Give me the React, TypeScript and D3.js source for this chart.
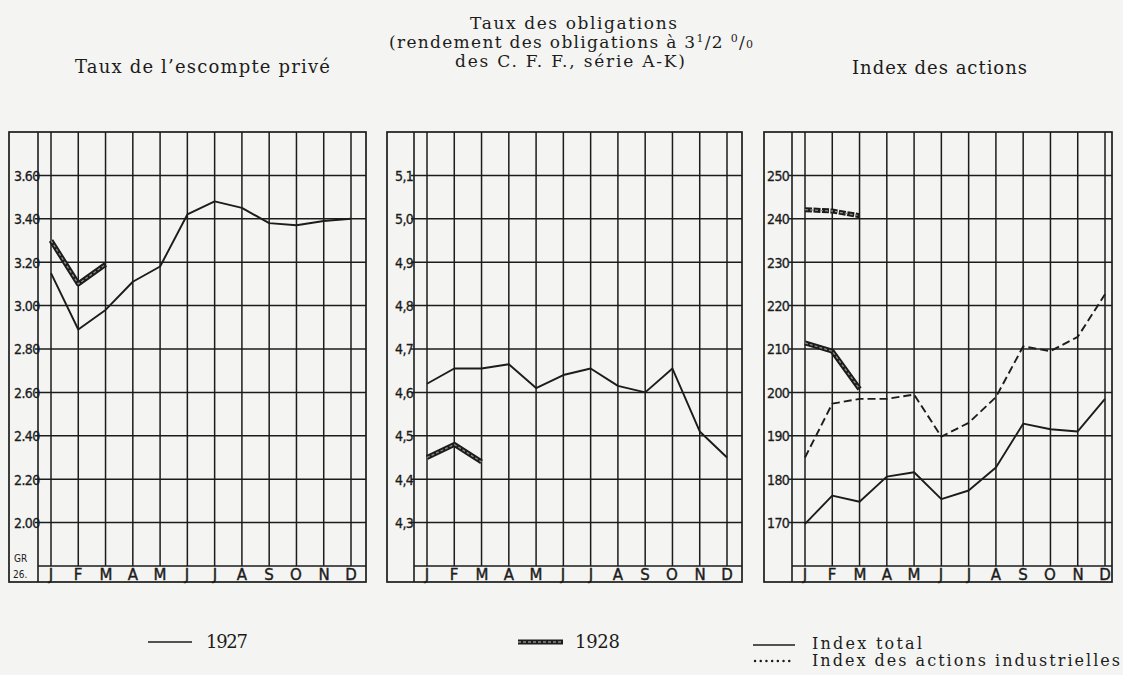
import React from 'react';
import * as d3 from 'd3';

// month initials on the bottom strip
const months = ['J', 'F', 'M', 'A', 'M', 'J', 'J', 'A', 'S', 'O', 'N', 'D'];

// Taux de l'escompte privé
const escompteTicks = [3.6, 3.4, 3.2, 3.0, 2.8, 2.6, 2.4, 2.2, 2.0];
const escompte1927 = [3.15, 2.89, 2.98, 3.11, 3.18, 3.42, 3.48, 3.45, 3.38, 3.37, 3.39, 3.40];
const escompte1928 = [3.30, 3.10, 3.19];

// Taux des obligations
const obligTicks = [5.1, 5.0, 4.9, 4.8, 4.7, 4.6, 4.5, 4.4, 4.3];
const oblig1927 = [4.62, 4.655, 4.655, 4.665, 4.61, 4.64, 4.655, 4.615, 4.60, 4.655, 4.51, 4.45];
const oblig1928 = [4.45, 4.48, 4.44];

// Index des actions
const actionsTicks = [250, 240, 230, 220, 210, 200, 190, 180, 170];
const indexTotal1927 = [169.7, 176.2, 174.8, 180.6, 181.6, 175.4, 177.4, 182.7, 192.8, 191.5, 191, 198.5];
const indexIndus1927 = [185, 197.4, 198.5, 198.5, 199.5, 189.8, 193, 198.9, 210.6, 209.5, 212.8, 222.6];
const indexTotal1928 = [211.4, 209.5, 200.8];
const indexIndus1928 = [242.1, 241.8, 240.7];

const W = 1123;
const H = 675;
const top = 132;
const strip = 566;
const bottom = 582;
const ink = '#1c1c1c';
const serif = '"DejaVu Serif", "Liberation Serif", serif';
const hand = '"DejaVu Sans Condensed", "DejaVu Sans", sans-serif';

type Series = { values: number[]; kind: 'solid' | 'dashed' | 'thick' | 'thickDashed' };

type PanelProps = {
  boxLeft: number;
  boxRight: number;
  axisX: number;
  firstX: number;
  lastX: number;
  labelX: number;
  domain: [number, number];
  ticks: number[];
  fmt: (v: number) => string;
  series: Series[];
  extra?: React.ReactNode;
};

const Thick = ({ d, dashed }: { d: string; dashed?: boolean }) => (
  <g fill="none" strokeLinejoin="round">
    <path d={d} stroke={ink} strokeWidth={5} strokeDasharray={dashed ? '7,1.5' : undefined} />
    <path d={d} stroke="#8a8a8a" strokeWidth={1.3} strokeDasharray="3,2" />
  </g>
);

const Panel = (p: PanelProps) => {
  const x = d3.scaleLinear().domain([0, 11]).range([p.firstX, p.lastX]);
  const y = d3.scaleLinear().domain(p.domain).range([strip, top]);
  const line = d3.line<number>().x((_, i) => x(i)).y((d) => y(d));

  return (
    <g>
      <rect x={p.boxLeft} y={top} width={p.boxRight - p.boxLeft} height={bottom - top}
        fill="none" stroke={ink} strokeWidth={1.7} />
      <line x1={p.axisX} x2={p.axisX} y1={top} y2={bottom} stroke={ink} strokeWidth={1.6} />
      <line x1={p.axisX} x2={p.boxRight} y1={strip} y2={strip} stroke={ink} strokeWidth={1.6} />
      {months.map((m, i) => (
        <line key={'v' + i} x1={x(i)} x2={x(i)} y1={top} y2={strip} stroke={ink} strokeWidth={1.5} />
      ))}
      {p.ticks.map((t) => (
        <g key={'t' + t}>
          <line x1={p.axisX - 3} x2={p.boxRight} y1={y(t)} y2={y(t)} stroke={ink} strokeWidth={1.5} />
          <text x={p.labelX} y={y(t)} dy="0.38em" fontFamily={hand} fontSize={14}
            fill={ink} stroke={ink} strokeWidth={0.3} letterSpacing={-0.6}>{p.fmt(t)}</text>
        </g>
      ))}
      {months.map((m, i) => (
        <text key={'m' + i} x={Math.round(x(i))} y={574} dy="0.37em" textAnchor="middle"
          fontFamily='"DejaVu Sans", sans-serif' fontSize={15} fill={ink}
          stroke={ink} strokeWidth={0.4}>{m}</text>
      ))}
      {p.series.map((s, k) => {
        const d = line(s.values) || '';
        if (s.kind === 'thick') return <Thick key={k} d={d} />;
        if (s.kind === 'thickDashed') return <Thick key={k} d={d} dashed />;
        return (
          <path key={k} d={d} fill="none" stroke={ink} strokeWidth={1.9}
            strokeLinejoin="round" strokeDasharray={s.kind === 'dashed' ? '8,4' : undefined} />
        );
      })}
      {p.extra}
    </g>
  );
};

const fmt2 = d3.format('.2f');
const fmtComma = (v: number) => d3.format('.1f')(v).replace('.', ',');
const fmtInt = d3.format('d');

export default function App() {
  return (
    <svg width={W} height={H} style={{ position: 'absolute', left: 0, top: 0, background: '#f4f4f2' }}>
      {/* titles */}
      <g fontFamily={serif} fontSize={17} fill={ink}>
        <text x={470} y={29} textLength={207} lengthAdjust="spacing">Taux des obligations</text>
        <text x={389} y={48} textLength={364} lengthAdjust="spacing">
          (rendement des obligations à 3<tspan fontSize={11} dy={-6}>1</tspan>
          <tspan dy={6}>/2 </tspan><tspan fontSize={11} dy={-6}>0</tspan><tspan dy={6}>/</tspan>
          <tspan fontSize={11}>0</tspan>
        </text>
        <text x={455} y={67} textLength={230} lengthAdjust="spacing">des C. F. F., série A-K)</text>
        <text x={75} y={73} textLength={255} lengthAdjust="spacing" fontSize={18}>Taux de l’escompte privé</text>
        <text x={852} y={74} textLength={175} lengthAdjust="spacing" fontSize={18}>Index des actions</text>
      </g>

      <Panel boxLeft={9} boxRight={366} axisX={38} firstX={51} lastX={351} labelX={14}
        domain={[1.8, 3.8]} ticks={escompteTicks} fmt={fmt2}
        series={[{ values: escompte1927, kind: 'solid' }, { values: escompte1928, kind: 'thick' }]}
        extra={
          <g fontFamily={hand} fontSize={10} fill={ink}>
            <text x={14} y={562}>GR</text>
            <text x={13} y={578}>26.</text>
          </g>
        } />

      <Panel boxLeft={387} boxRight={742} axisX={414} firstX={427} lastX={727} labelX={395}
        domain={[4.2, 5.2]} ticks={obligTicks} fmt={fmtComma}
        series={[{ values: oblig1927, kind: 'solid' }, { values: oblig1928, kind: 'thick' }]} />

      <Panel boxLeft={764} boxRight={1112} axisX={792} firstX={805} lastX={1105} labelX={767}
        domain={[160, 260]} ticks={actionsTicks} fmt={fmtInt}
        series={[
          { values: indexTotal1927, kind: 'solid' },
          { values: indexIndus1927, kind: 'dashed' },
          { values: indexTotal1928, kind: 'thick' },
          { values: indexIndus1928, kind: 'thickDashed' },
        ]} />

      {/* legend */}
      <g fontFamily={serif} fontSize={18} fill={ink}>
        <line x1={148} x2={192} y1={642} y2={642} stroke={ink} strokeWidth={1.6} />
        <text x={206} y={648} textLength={42} lengthAdjust="spacing">1927</text>
        <Thick d="M518,642L563,642" />
        <text x={575} y={648} textLength={45} lengthAdjust="spacing">1928</text>
      </g>
      <g fontFamily={serif} fontSize={16} fill={ink}>
        <line x1={753} x2={795} y1={645} y2={645} stroke={ink} strokeWidth={1.6} />
        <text x={812} y={649} textLength={110} lengthAdjust="spacing">Index total</text>
        <line x1={755} x2={790} y1={661} y2={661} stroke={ink} strokeWidth={2.4}
          strokeDasharray="0.1,5.6" strokeLinecap="round" />
        <text x={812} y={666} textLength={308} lengthAdjust="spacing">Index des actions industrielles</text>
      </g>
    </svg>
  );
}
